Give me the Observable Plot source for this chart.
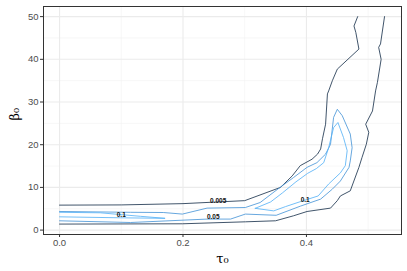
<!DOCTYPE html>
<html>
<head>
<meta charset="utf-8">
<script src="https://cdn.jsdelivr.net/npm/d3@7"></script>
<script src="https://cdn.jsdelivr.net/npm/@observablehq/plot@0.6"></script>
<style>
  html, body { margin: 0; padding: 0; background: #fff; }
  svg { display: block; }
</style>
</head>
<body>
<div id="chart"></div>
<script>
// Tick values
const xTicks = [0, 0.2, 0.4];
const yTicks = [0, 10, 20, 30, 40, 50];
const xMinor = [0.1, 0.3, 0.5];
const yMinor = [5, 15, 25, 35, 45];

// Contour level 0.005 (two open branches)
const c005Upper = [[0,5.85],[0.10,5.9],[0.20,6.2],[0.30,6.9],[0.358,10.0],[0.377,12.7],[0.390,15.1],[0.409,16.6],[0.418,17.8],[0.423,19.0],[0.426,21.4],[0.431,24.8],[0.434,31.9],[0.436,32.6],[0.442,35.0],[0.450,37.7],[0.485,42.4],[0.480,46.3],[0.477,47.8],[0.483,50.0]];
const c005Lower = [[0.5265,50],[0.520,43.6],[0.517,42.8],[0.521,40.0],[0.515,34.6],[0.512,32.6],[0.507,27.9],[0.496,24.8],[0.501,22.9],[0.497,20.1],[0.490,17.0],[0.485,14.7],[0.471,9.2],[0.455,8.0],[0.450,6.9],[0.439,5.15],[0.401,4.36],[0.379,3.35],[0.350,2.18],[0.301,1.94],[0.199,1.48],[0,1.41]];
// Contour level 0.05
const c05 = [[0,4.36],[0.115,4.17],[0.168,4.12],[0.199,3.75],[0.239,5.15],[0.301,5.29],[0.325,6.46],[0.357,9.98],[0.379,12.3],[0.401,14.7],[0.417,15.8],[0.431,17.8],[0.439,20.1],[0.444,26.4],[0.450,28.3],[0.458,26.8],[0.471,22.5],[0.474,19.3],[0.471,16.2],[0.469,14.7],[0.455,11.5],[0.442,9.6],[0.423,7.26],[0.390,5.6],[0.351,3.47],[0.301,3.75],[0.277,2.58],[0.239,2.58],[0.115,1.78],[0,2.18]];
// Contour level 0.1 (loop + left sliver)
const c1Loop = [[0.317,5.1],[0.342,6.6],[0.361,8.7],[0.383,11.3],[0.402,13.3],[0.416,14.4],[0.428,15.8],[0.436,19.3],[0.444,24.0],[0.451,25.2],[0.460,21.7],[0.466,18.6],[0.463,15.1],[0.455,13.4],[0.436,10.8],[0.419,8.0],[0.395,6.9],[0.366,5.5],[0.347,4.5],[0.317,5.1]];
const c1Sliver = [[0,4.17],[0.066,4.05],[0.131,3.23],[0.171,2.76],[0.099,2.88],[0,3.11]];

// Contour labels
const labelText = ["0.005", "0.05", "0.1", "0.1"];
const labelX = [0.257, 0.249, 0.100, 0.398];
const labelY = [6.86, 3.11, 3.5, 6.98];

const paths = [
  {id: "a", level: "0.005", pts: c005Upper},
  {id: "b", level: "0.005", pts: c005Lower},
  {id: "c", level: "0.05", pts: c05},
  {id: "d", level: "0.1", pts: c1Loop},
  {id: "e", level: "0.1", pts: c1Sliver}
];
const lineData = paths.flatMap(p => p.pts.map(([x, y]) => ({id: p.id, level: p.level, x, y})));
const labels = labelText.map((t, i) => ({t, x: labelX[i], y: labelY[i]}));

const chart = Plot.plot({
  width: 407,
  height: 271,
  marginLeft: 43,
  marginRight: 6,
  marginTop: 6,
  marginBottom: 37,
  style: {fontFamily: "'Liberation Sans', Arial, sans-serif", background: "#fff"},
  x: {domain: [-0.026, 0.554]},
  y: {domain: [-1.03, 52.37]},
  color: {domain: ["0.005", "0.05", "0.1"], range: ["#1f3650", "#4b97d8", "#5ab4f7"]},
  marks: [
    Plot.ruleX(xMinor, {stroke: "#f2f2f2", strokeWidth: 0.6}),
    Plot.ruleY(yMinor, {stroke: "#f2f2f2", strokeWidth: 0.6}),
    Plot.ruleX(xTicks, {stroke: "#ebebeb", strokeWidth: 1.1}),
    Plot.ruleY(yTicks, {stroke: "#ebebeb", strokeWidth: 1.1}),
    Plot.line(lineData, {x: "x", y: "y", z: "id", stroke: "level", strokeWidth: 0.85, curve: "linear"}),
    Plot.text(labels, {x: "x", y: "y", text: "t", fontSize: 6.5, fontWeight: "bold", fill: "#111"}),
    Plot.frame({stroke: "#333", strokeWidth: 1}),
    Plot.axisX(xTicks, {tickFormat: d3.format(".1f"), tickSize: 3, tickPadding: 2, stroke: "#333", fill: "#4d4d4d", fontSize: 9.5, label: null}),
    Plot.axisY(yTicks, {tickFormat: d3.format("d"), tickSize: 3, tickPadding: 2, stroke: "#333", fill: "#4d4d4d", fontSize: 9.5, label: null}),
    Plot.text(["τ₀"], {frameAnchor: "bottom", dy: 28, fontSize: 13, fill: "#000", fontFamily: "'DejaVu Serif', serif"}),
    Plot.text(["β₀"], {frameAnchor: "left", dx: -29, rotate: -90, fontSize: 13, fill: "#000", fontFamily: "'DejaVu Serif', serif"})
  ]
});
document.getElementById("chart").appendChild(chart);
</script>
</body>
</html>
